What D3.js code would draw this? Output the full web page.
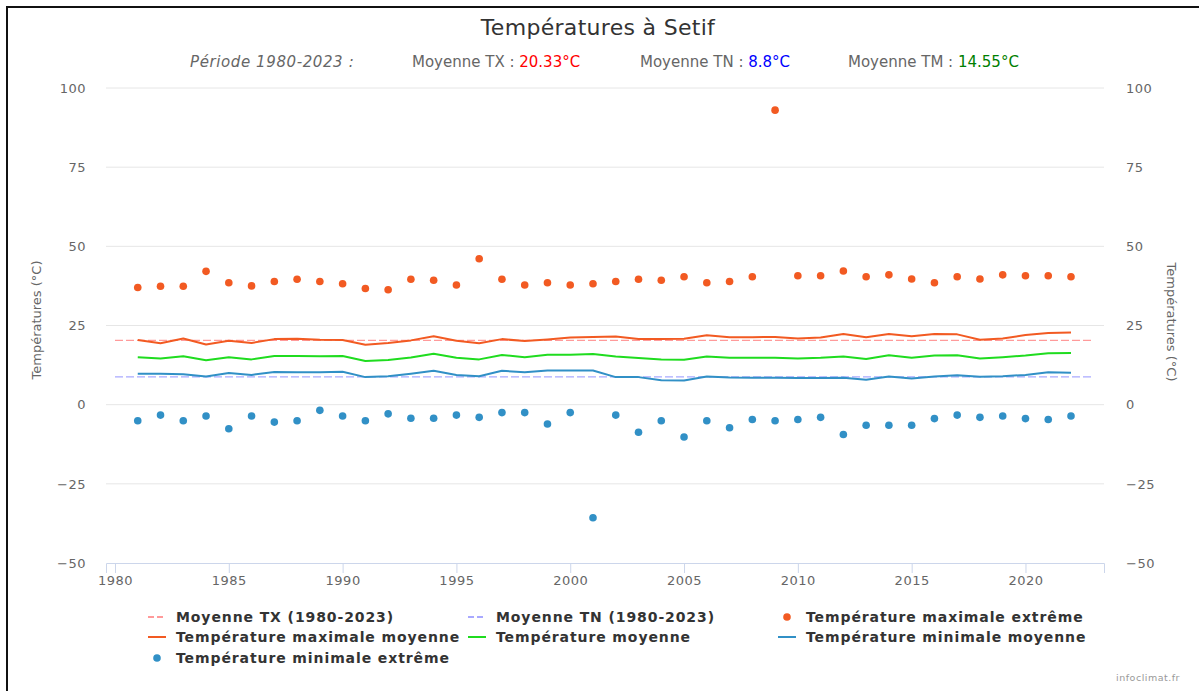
<!DOCTYPE html>
<html>
<head>
<meta charset="utf-8">
<script src="https://cdn.jsdelivr.net/npm/d3@7"></script>
<style>
  body { margin: 0; background: #fff; }
  svg { display: block; font-family: "DejaVu Sans", sans-serif; }
</style>
</head>
<body>
<div id="chart"></div>
<script>
// data (Setif 1981-2022)
var years = d3.range(1981, 2023);
var txMax = [37.0, 37.4, 37.4, 42.1, 38.5, 37.5, 38.9, 39.6, 38.9, 38.2,
             36.7, 36.3, 39.6, 39.3, 37.8, 46.1, 39.6, 37.8, 38.5, 37.8,
             38.2, 38.9, 39.6, 39.3, 40.4, 38.5, 38.9, 40.4, 93.0, 40.7,
             40.7, 42.2, 40.4, 41.0, 39.7, 38.5, 40.4, 39.7, 41.0, 40.7,
             40.7, 40.4];
var txMean = [20.4, 19.4, 20.9, 19.0, 20.2, 19.5, 20.7, 20.8, 20.5, 20.4,
              18.9, 19.5, 20.3, 21.6, 20.2, 19.4, 20.7, 20.1, 20.6, 21.2,
              21.4, 21.5, 20.7, 20.7, 20.8, 21.9, 21.3, 21.3, 21.4, 20.9,
              21.2, 22.3, 21.3, 22.3, 21.6, 22.3, 22.2, 20.5, 20.9, 22.0,
              22.6, 22.8];
var tmMean = [15.0, 14.6, 15.3, 14.0, 15.0, 14.3, 15.4, 15.4, 15.3, 15.4,
              13.8, 14.1, 14.9, 16.1, 14.8, 14.3, 15.7, 15.0, 15.8, 15.8,
              16.0, 15.2, 14.7, 14.3, 14.2, 15.2, 14.8, 14.8, 14.8, 14.6,
              14.8, 15.2, 14.4, 15.6, 14.8, 15.5, 15.6, 14.6, 15.0, 15.5,
              16.2, 16.3];
var tnMean = [9.8, 9.8, 9.6, 8.9, 10.0, 9.4, 10.3, 10.2, 10.2, 10.4,
              8.7, 9.0, 9.8, 10.7, 9.4, 9.0, 10.7, 10.2, 10.8, 10.8,
              10.8, 8.7, 8.7, 7.7, 7.6, 8.9, 8.6, 8.5, 8.5, 8.4,
              8.4, 8.5, 7.9, 8.9, 8.3, 8.9, 9.3, 8.8, 9.0, 9.4,
              10.2, 10.1];
var tnMin = [-5.1, -3.3, -5.1, -3.6, -7.6, -3.6, -5.5, -5.1, -1.8, -3.6,
             -5.1, -2.9, -4.3, -4.3, -3.3, -4.0, -2.5, -2.5, -6.1, -2.5,
             -35.7, -3.3, -8.7, -5.1, -10.2, -5.1, -7.3, -4.7, -5.1, -4.7,
             -4.0, -9.4, -6.5, -6.5, -6.5, -4.4, -3.3, -4.0, -3.6, -4.4,
             -4.7, -3.6];
var periodYears = [1980, 2023];
var meanTX = 20.33, meanTN = 8.8, meanTM = 14.55;
var xTicks = [1980, 1985, 1990, 1995, 2000, 2005, 2010, 2015, 2020];
var yTicks = [-50, -25, 0, 25, 50, 75, 100];

var W = 1199, H = 691;
// note: "top" is taken by window.top, so plot edges get their own names
var plotL = 106, plotR = 1104, plotT = 88, plotB = 563;

var cOrange = "#f25a22", cGreen = "#1fdc1f", cBlue = "#3190c6";
var cTXavg = "#ff9a9a", cTNavg = "#a9a9ff";

var svg = d3.select("#chart").append("svg")
    .attr("width", W).attr("height", H);

// frame of the page
svg.append("rect")
    .attr("x", 7).attr("y", 7).attr("width", 1400).attr("height", 900)
    .attr("fill", "none").attr("stroke", "#111").attr("stroke-width", 2);

var x = d3.scaleLinear().domain([1979.605, 2023.45]).range([plotL, plotR]);
var y = d3.scaleLinear().domain([-50, 100]).range([plotB, plotT]);

// grid
svg.append("g").selectAll("line").data(yTicks.filter(function(d){ return d > -50; }))
    .enter().append("line")
    .attr("x1", plotL).attr("x2", plotR)
    .attr("y1", function(d){ return y(d); }).attr("y2", function(d){ return y(d); })
    .attr("stroke", "#e6e6e6").attr("stroke-width", 1);

// x axis
var xAxis = svg.append("g")
    .attr("transform", "translate(0," + plotB + ")")
    .call(d3.axisBottom(x).tickValues(xTicks).tickFormat(d3.format("d"))
        .tickSize(10).tickPadding(3));
xAxis.select(".domain").attr("stroke", "#ccd6eb");
xAxis.selectAll(".tick line").attr("stroke", "#ccd6eb");
xAxis.selectAll("text").attr("fill", "#666").attr("font-size", "13px")
    .attr("font-family", "DejaVu Sans").attr("letter-spacing", "0.5px");

// y axes (left and right)
var yl = svg.append("g").attr("transform", "translate(" + plotL + ",0)")
    .call(d3.axisLeft(y).tickValues(yTicks).tickSize(0).tickPadding(20));
var yr = svg.append("g").attr("transform", "translate(" + plotR + ",0)")
    .call(d3.axisRight(y).tickValues(yTicks).tickSize(0).tickPadding(22));
[yl, yr].forEach(function(g){
    g.select(".domain").remove();
    g.selectAll("text").attr("fill", "#666").attr("font-size", "13px")
        .attr("font-family", "DejaVu Sans").attr("letter-spacing", "0.5px");
});

svg.append("text")
    .attr("transform", "translate(41,320) rotate(-90)")
    .attr("text-anchor", "middle").attr("fill", "#666").attr("font-size", "13px")
    .text("Températures (°C)");
svg.append("text")
    .attr("transform", "translate(1167,322) rotate(90)")
    .attr("text-anchor", "middle").attr("fill", "#666").attr("font-size", "13px")
    .text("Températures (°C)");

// period averages (dashed)
function avgLine(v, col){
    svg.append("line")
        .attr("x1", x(periodYears[0])).attr("x2", x(periodYears[1]))
        .attr("y1", y(v)).attr("y2", y(v))
        .attr("stroke", col).attr("stroke-width", 1.3)
        .attr("stroke-dasharray", "8,3");
}
avgLine(meanTX, cTXavg);
avgLine(meanTN, cTNavg);

// mean lines
var line = d3.line()
    .x(function(d){ return x(d[0]); })
    .y(function(d){ return y(d[1]); });
[[txMean, cOrange], [tmMean, cGreen], [tnMean, cBlue]].forEach(function(s){
    svg.append("path")
        .datum(years.map(function(yy, i){ return [yy, s[0][i]]; }))
        .attr("d", line)
        .attr("fill", "none").attr("stroke", s[1]).attr("stroke-width", 2)
        .attr("stroke-linejoin", "round");
});

// extremes
[[txMax, cOrange], [tnMin, cBlue]].forEach(function(s){
    svg.append("g").selectAll("circle")
        .data(years.map(function(yy, i){ return [yy, s[0][i]]; }))
        .enter().append("circle")
        .attr("cx", function(d){ return x(d[0]); })
        .attr("cy", function(d){ return y(d[1]); })
        .attr("r", 3.8).attr("fill", s[1]);
});

// title + subtitle
svg.append("text")
    .attr("x", 598).attr("y", 35).attr("text-anchor", "middle")
    .attr("font-size", "22px").attr("letter-spacing", "0.3px")
    .attr("fill", "#333").text("Températures à Setif");

var sub = svg.append("g").attr("font-size", "15px").attr("fill", "#666");
sub.append("text").attr("x", 190).attr("y", 67).attr("font-style", "italic")
    .attr("letter-spacing", "0.6px")
    .text("Période 1980-2023 :");
function stat(x0, label, val, col){
    var t = sub.append("text").attr("x", x0).attr("y", 67);
    t.append("tspan").text(label + " : ");
    t.append("tspan").attr("fill", col).text(val + "°C");
}
stat(412, "Moyenne TX", meanTX, "#ff0000");
stat(640, "Moyenne TN", meanTN, "#0000ff");
stat(848, "Moyenne TM", meanTM, "#008000");

// legend
var legendItems = [
    {name: "Moyenne TX (1980-2023)", type: "dash", color: cTXavg},
    {name: "Moyenne TN (1980-2023)", type: "dash", color: cTNavg},
    {name: "Température maximale extrême", type: "dot", color: cOrange},
    {name: "Température maximale moyenne", type: "line", color: cOrange},
    {name: "Température moyenne", type: "line", color: cGreen},
    {name: "Température minimale moyenne", type: "line", color: cBlue},
    {name: "Température minimale extrême", type: "dot", color: cBlue}
];
var colX = [148, 468, 778], rowY = [617, 637, 658];
var leg = svg.append("g");
legendItems.forEach(function(it, i){
    var gx = colX[i % 3], gy = rowY[Math.floor(i / 3)];
    var g = leg.append("g").attr("transform", "translate(" + gx + "," + gy + ")");
    if (it.type === "dot") {
        g.append("circle").attr("cx", 9).attr("cy", 0).attr("r", 3.8).attr("fill", it.color);
    } else {
        g.append("line").attr("x1", 0).attr("x2", 18).attr("y1", 0).attr("y2", 0)
            .attr("stroke", it.color).attr("stroke-width", 2)
            .attr("stroke-dasharray", it.type === "dash" ? "6,3" : null);
    }
    g.append("text").attr("x", 28).attr("y", 5)
        .attr("font-size", "14px").attr("font-weight", "bold")
        .attr("letter-spacing", "0.9px")
        .attr("fill", "#333").text(it.name);
});

svg.append("text").attr("x", 1180).attr("y", 681).attr("text-anchor", "end")
    .attr("font-size", "9.5px").attr("fill", "#999").attr("letter-spacing", "0.5px")
    .text("infoclimat.fr");
</script>
</body>
</html>
